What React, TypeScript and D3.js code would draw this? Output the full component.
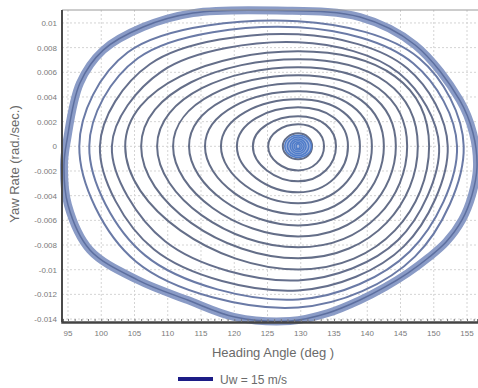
import React, { useEffect, useRef } from "react";
import * as d3 from "d3";

// axis ticks
const headingTicks = [95, 100, 105, 110, 115, 120, 125, 130, 135, 140, 145, 150, 155];
const yawTicks = [0.01, 0.008, 0.006, 0.004, 0.002, 0, -0.002, -0.004, -0.006, -0.008, -0.01, -0.012, -0.014];

// spiral centre (deg)
const centerHeading = 129.6;

// inner loops of the spiral, inner -> outer: crossings
const ringLeft = [127.3, 125.1, 122.8, 120.4, 118.0, 115.6, 113.2, 110.8, 108.4, 106.0, 103.6];
const ringRight = [131.7, 133.5, 135.3, 137.1, 138.9, 140.7, 142.5, 144.3, 146.0, 147.6, 149.3];
const ringTop = [0.00105, 0.00178, 0.00243, 0.00316, 0.00381, 0.00446, 0.00511, 0.00576, 0.00641, 0.00706, 0.0077];
const ringBottom = [-0.00105, -0.00195, -0.00284, -0.00373, -0.00462, -0.00552, -0.00641, -0.0073, -0.00819, -0.00908, -0.00998];

// outer loops, which bend towards the outer band (heading, yaw)
const loop12: [number, number][] = [[150.8, 0], [144.8, 0.00592], [129.6, 0.00843], [109.1, 0.00608], [101.6, 0], [109.6, -0.0077], [129.6, -0.01087], [144.6, -0.00762]];
const loop13: [number, number][] = [[152.1, 0], [146.0, 0.00633], [129.6, 0.00908], [107.3, 0.00665], [99.8, 0], [107.9, -0.00835], [129.6, -0.01168], [145.5, -0.00811]];
const loop14: [number, number][] = [[153.5, 0], [146.9, 0.00673], [129.6, 0.00965], [105.5, 0.00714], [98.2, 0], [106.6, -0.00884], [129.6, -0.01241], [146.4, -0.00852]];
const loop15: [number, number][] = [[154.5, 0], [147.8, 0.00714], [129.6, 0.01014], [104.0, 0.00762], [96.7, 0], [105.2, -0.00933], [129.6, -0.01306], [147.2, -0.00892]];

// tight loops at the centre
const coreHalfWidth = [0.3, 0.6, 0.9, 1.2, 1.6, 2.0];
const coreHalfHeight = [0.0002, 0.0003, 0.00045, 0.0006, 0.00075, 0.0009];

// outermost pass (start of the run)
const outerHeading = [126.4, 138.9, 147.2, 153.9, 155.9, 156.5, 155.75, 154.25, 151.85, 149.15, 146.1, 142.7, 138.9, 134.1, 128.4, 120.1, 113.0, 105.5, 98.3, 95.0, 94.4, 94.85, 96.8, 100.3, 106.3, 113.8];
const outerYaw = [0.0110, 0.01048, 0.00821, 0.00375, 0.00108, -0.00168, -0.00395, -0.00597, -0.00776, -0.00905, -0.01027, -0.0114, -0.01246, -0.01351, -0.01416, -0.01384, -0.01246, -0.01084, -0.0084, -0.00476, -0.00152, 0.00051, 0.00513, 0.0078, 0.00967, 0.0108];

const width = 478;
const height = 388;
const margin = { top: 10, right: 0, bottom: 66, left: 62 };

export default function App() {
  const ref = useRef<SVGSVGElement>(null);

  useEffect(() => {
    const svg = d3.select(ref.current);
    svg.selectAll("*").remove();

    const x = d3
      .scaleLinear()
      .domain([94.1, 156.65])
      .range([margin.left, width - margin.right]);
    const y = d3
      .scaleLinear()
      .domain([-0.01424, 0.01105])
      .range([height - margin.bottom, margin.top]);

    const font = "Liberation Sans, Arial, sans-serif";

    // grid
    const grid = svg.append("g");
    grid
      .selectAll("line.v")
      .data(headingTicks)
      .join("line")
      .attr("x1", (d) => x(d))
      .attr("x2", (d) => x(d))
      .attr("y1", margin.top)
      .attr("y2", height - margin.bottom)
      .attr("stroke", "#d4d4d4")
      .attr("stroke-dasharray", "2,2");
    grid
      .selectAll("line.h")
      .data(yawTicks)
      .join("line")
      .attr("x1", margin.left)
      .attr("x2", width - margin.right)
      .attr("y1", (d) => y(d))
      .attr("y2", (d) => y(d))
      .attr("stroke", "#d4d4d4")
      .attr("stroke-dasharray", "2,2");

    const plot = svg.append("g");

    // outer band
    const line = d3
      .line<[number, number]>()
      .x((d) => x(d[0]))
      .y((d) => y(d[1]))
      .curve(d3.curveCatmullRomClosed);
    const outer: [number, number][] = outerHeading.map((h, i) => [h, outerYaw[i]]);
    plot
      .append("path")
      .attr("d", line(outer))
      .attr("fill", "none")
      .attr("stroke", "#8a9bc6")
      .attr("stroke-width", 8);
    plot
      .append("path")
      .attr("d", line(outer))
      .attr("fill", "none")
      .attr("stroke", "#5d6f9f")
      .attr("stroke-width", 1.5);

    // outer loops
    [loop15, loop14, loop13, loop12].forEach((pts, i) => {
      plot
        .append("path")
        .attr("d", line(pts))
        .attr("fill", "none")
        .attr("stroke", i < 2 ? "#6a7aa6" : "#656f8c")
        .attr("stroke-width", 2);
    });

    // inner loops
    const ring = d3
      .line<[number, number]>()
      .x((d) => x(d[0]))
      .y((d) => y(d[1]))
      .curve(d3.curveCardinalClosed.tension(-0.65));
    ringLeft.forEach((l, i) => {
      const pts: [number, number][] = [
        [ringRight[i], 0],
        [centerHeading, ringTop[i]],
        [l, 0],
        [centerHeading, ringBottom[i]],
      ];
      plot
        .append("path")
        .attr("d", ring(pts))
        .attr("fill", "none")
        .attr("stroke", "#646e88")
        .attr("stroke-width", 2);
    });

    // centre blob
    plot
      .append("ellipse")
      .attr("cx", x(centerHeading))
      .attr("cy", y(0))
      .attr("rx", x(centerHeading + 2) - x(centerHeading))
      .attr("ry", y(0) - y(0.0009))
      .attr("fill", "#9fb3dd");
    coreHalfWidth.forEach((w, i) => {
      const pts: [number, number][] = [
        [centerHeading + w, 0],
        [centerHeading, coreHalfHeight[i]],
        [centerHeading - w, 0],
        [centerHeading, -coreHalfHeight[i]],
      ];
      plot
        .append("path")
        .attr("d", ring(pts))
        .attr("fill", "none")
        .attr("stroke", "#4f7cc9")
        .attr("stroke-width", 1.5);
    });

    // frame
    svg
      .append("line")
      .attr("x1", margin.left)
      .attr("x2", width)
      .attr("y1", margin.top)
      .attr("y2", margin.top)
      .attr("stroke", "#9a9a9a");
    svg
      .append("line")
      .attr("x1", margin.left)
      .attr("x2", margin.left)
      .attr("y1", margin.top)
      .attr("y2", height - margin.bottom)
      .attr("stroke", "#4a4a4a")
      .attr("stroke-width", 2);

    // bottom axis with minor ticks
    const xAxis = svg
      .append("g")
      .attr("transform", `translate(0,${height - margin.bottom})`)
      .call(
        d3
          .axisBottom(x)
          .tickValues(d3.range(95, 157, 1))
          .tickSize(-3)
          .tickFormat(() => "")
      );
    xAxis.select(".domain").attr("stroke", "#444").attr("stroke-width", 2.5);
    xAxis.selectAll(".tick line").attr("stroke", "#777");

    svg
      .append("g")
      .selectAll("text")
      .data(headingTicks)
      .join("text")
      .attr("x", (d) => x(d))
      .attr("y", height - margin.bottom + 14)
      .attr("text-anchor", "middle")
      .attr("font-family", font)
      .attr("font-size", 8)
      .attr("fill", "#7a7a7a")
      .text((d) => d);

    svg
      .append("g")
      .selectAll("text")
      .data(yawTicks)
      .join("text")
      .attr("x", margin.left - 5)
      .attr("y", (d) => y(d) + 3)
      .attr("text-anchor", "end")
      .attr("font-family", font)
      .attr("font-size", 8)
      .attr("fill", "#7a7a7a")
      .text((d) => String(+d.toFixed(3)));

    // titles
    svg
      .append("text")
      .attr("x", 273)
      .attr("y", 357)
      .attr("text-anchor", "middle")
      .attr("font-family", font)
      .attr("font-size", 13)
      .attr("fill", "#6a6a6a")
      .text("Heading Angle (deg )");
    svg
      .append("text")
      .attr("transform", "translate(19,164) rotate(-90)")
      .attr("text-anchor", "middle")
      .attr("font-family", font)
      .attr("font-size", 13)
      .attr("fill", "#6a6a6a")
      .text("Yaw Rate (rad./sec.)");

    // legend
    svg
      .append("line")
      .attr("x1", 178)
      .attr("x2", 213)
      .attr("y1", 379)
      .attr("y2", 379)
      .attr("stroke", "#1c1c86")
      .attr("stroke-width", 4);
    svg
      .append("text")
      .attr("x", 220)
      .attr("y", 384)
      .attr("font-family", font)
      .attr("font-size", 12)
      .attr("fill", "#6a6a6a")
      .text("Uw = 15 m/s");
  }, []);

  return (
    <svg
      ref={ref}
      width={width}
      height={height}
      style={{ position: "absolute", left: 0, top: 0, background: "#fff" }}
    />
  );
}
